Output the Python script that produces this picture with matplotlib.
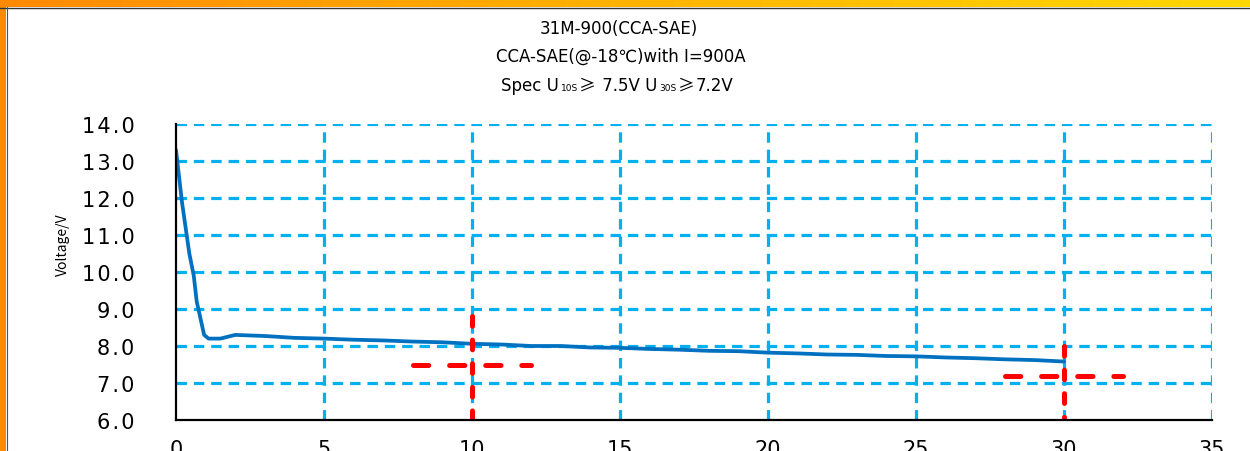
"""
Cold cranking discharge curve, 31M-900 (CCA-SAE)
"""

import matplotlib
matplotlib.use("Agg")
import matplotlib.pyplot as plt
import numpy as np
from matplotlib.offsetbox import TextArea, HPacker, AnnotationBbox
from matplotlib.lines import Line2D
from matplotlib.colors import LinearSegmentedColormap
from matplotlib.ticker import FuncFormatter

plt.rcParams['lines.scale_dashes'] = False

# --- data ---
time_s = [0, 0.2, 0.45, 0.6, 0.7, 0.95, 1.1, 1.5, 2, 3, 4, 5, 6, 7, 8, 9, 10,
          11, 12, 13, 14, 15, 16, 17, 18, 19, 20, 21, 22, 23, 24, 25, 26, 27,
          28, 29, 30]
voltage = [13.3, 11.9, 10.5, 9.9, 9.2, 8.3, 8.2, 8.2, 8.3, 8.27, 8.22, 8.2,
           8.17, 8.15, 8.12, 8.1, 8.06, 8.04, 8.0, 8.0, 7.96, 7.95, 7.92, 7.9,
           7.87, 7.86, 7.82, 7.8, 7.77, 7.76, 7.73, 7.72, 7.69, 7.67, 7.64,
           7.62, 7.58]

# spec markers (time, limit voltage)
spec_t = [10, 30]
spec_v = [7.5, 7.2]
spec_vtop = [8.8, 8.0]
spec_half = 2

x_ticks = [0, 5, 10, 15, 20, 25, 30, 35]
y_ticks = [6, 7, 8, 9, 10, 11, 12, 13, 14]

W, H = 1250, 452
fig = plt.figure(figsize=(W / 100, H / 100), dpi=100)
fig.patch.set_facecolor('white')

# --- orange frame (top gradient bar + left band) ---
top = fig.add_axes([0, 1 - 8 / H, 1, 8 / H])
grad = np.linspace(0, 1, 256).reshape(1, -1)
cmap = LinearSegmentedColormap.from_list('frame', ['#FF8A00', '#FFB300', '#FFD800'])
top.imshow(grad, aspect='auto', cmap=cmap)
top.set_axis_off()
left = fig.add_axes([0, 0, 6 / W, 1 - 8 / H])
left.set_facecolor('#FF8C00')
left.set_xticks([])
left.set_yticks([])
for s in left.spines.values():
    s.set_visible(False)
fig.add_artist(Line2D([0, 1], [1 - 8.5 / H] * 2, transform=fig.transFigure,
                      color='#333333', lw=1.0))
fig.add_artist(Line2D([6.5 / W] * 2, [0, 1 - 8 / H], transform=fig.transFigure,
                      color='#7a4a10', lw=0.8))

# --- main axes ---
ax = fig.add_axes([176 / W, (H - 421) / H, 1036 / W, 296 / H])
ax.set_xlim(0, 35)
ax.set_ylim(6, 14)

grid_kw = dict(color='#00B0F0', lw=2.3, linestyle=(0, (7.5, 5)), zorder=1)
for y in y_ticks[1:]:
    ax.axhline(y, **grid_kw)
for x in x_ticks[1:]:
    ax.axvline(x, **grid_kw)

ax.plot(time_s, voltage, color='#0070C0', lw=2.7, zorder=3,
        solid_joinstyle='round', solid_capstyle='round')

# spec crosshairs
for t, v, vt in zip(spec_t, spec_v, spec_vtop):
    ax.plot([t - spec_half, t + spec_half], [v, v], color='red', lw=3.6,
            linestyle=(0, (11, 15)), dash_capstyle='round', zorder=4)
    ax.plot([t, t], [vt, 6], color='red', lw=3.6,
            linestyle=(0, (7, 10)), dash_capstyle='round', zorder=4)

for side in ['top', 'right']:
    ax.spines[side].set_visible(False)
for side in ['left', 'bottom']:
    ax.spines[side].set_color('black')
    ax.spines[side].set_linewidth(1.6)
    ax.spines[side].set_zorder(5)

# the reference's tick font is set wide, a hair space helps
spaced = lambda s: '\u200a'.join(s)
ax.set_xticks(x_ticks)
ax.set_yticks(y_ticks)
ax.yaxis.set_major_formatter(FuncFormatter(lambda y, _: spaced(f'{y:.1f}')))
ax.tick_params(axis='both', length=0, labelsize=15, colors='black')
ax.tick_params(axis='y', pad=30)
ax.tick_params(axis='x', pad=14)

fig.text(63 / W, 1 - 245 / H, 'Voltage/V', rotation=90, ha='center', va='center',
         fontsize=10, family=['Noto Sans CJK SC', 'DejaVu Sans'])

# --- titles ---
tfont = ['DejaVu Sans', 'Noto Sans CJK SC']
fig.text(619 / W, 1 - 29.5 / H, '31M-900(CCA-SAE)', ha='center', va='center',
         fontsize=12, family=tfont)
fig.text(621 / W, 1 - 57 / H, 'CCA-SAE(@-18℃)with I=900A', ha='center',
         va='center', fontsize=12, family=tfont)

big = dict(fontsize=12, family=tfont, color='black')
sym = dict(fontsize=12, family=['Noto Sans CJK SC', 'DejaVu Sans'], color='black')
small = dict(fontsize=6.5, family=tfont, color='black')
parts = [TextArea('Spec U', textprops=big), TextArea('10S', textprops=small),
         TextArea('≥', textprops=sym), TextArea(' 7.5V U', textprops=big),
         TextArea('30S', textprops=small), TextArea('≥', textprops=sym),
         TextArea('7.2V', textprops=big)]
box = HPacker(children=parts, align='baseline', pad=0, sep=1)
ab = AnnotationBbox(box, (617.5 / W, 1 - 86 / H), xycoords='figure fraction',
                    frameon=False, box_alignment=(0.5, 0.5))
fig.add_artist(ab)

fig.savefig('out.png', dpi=100)
